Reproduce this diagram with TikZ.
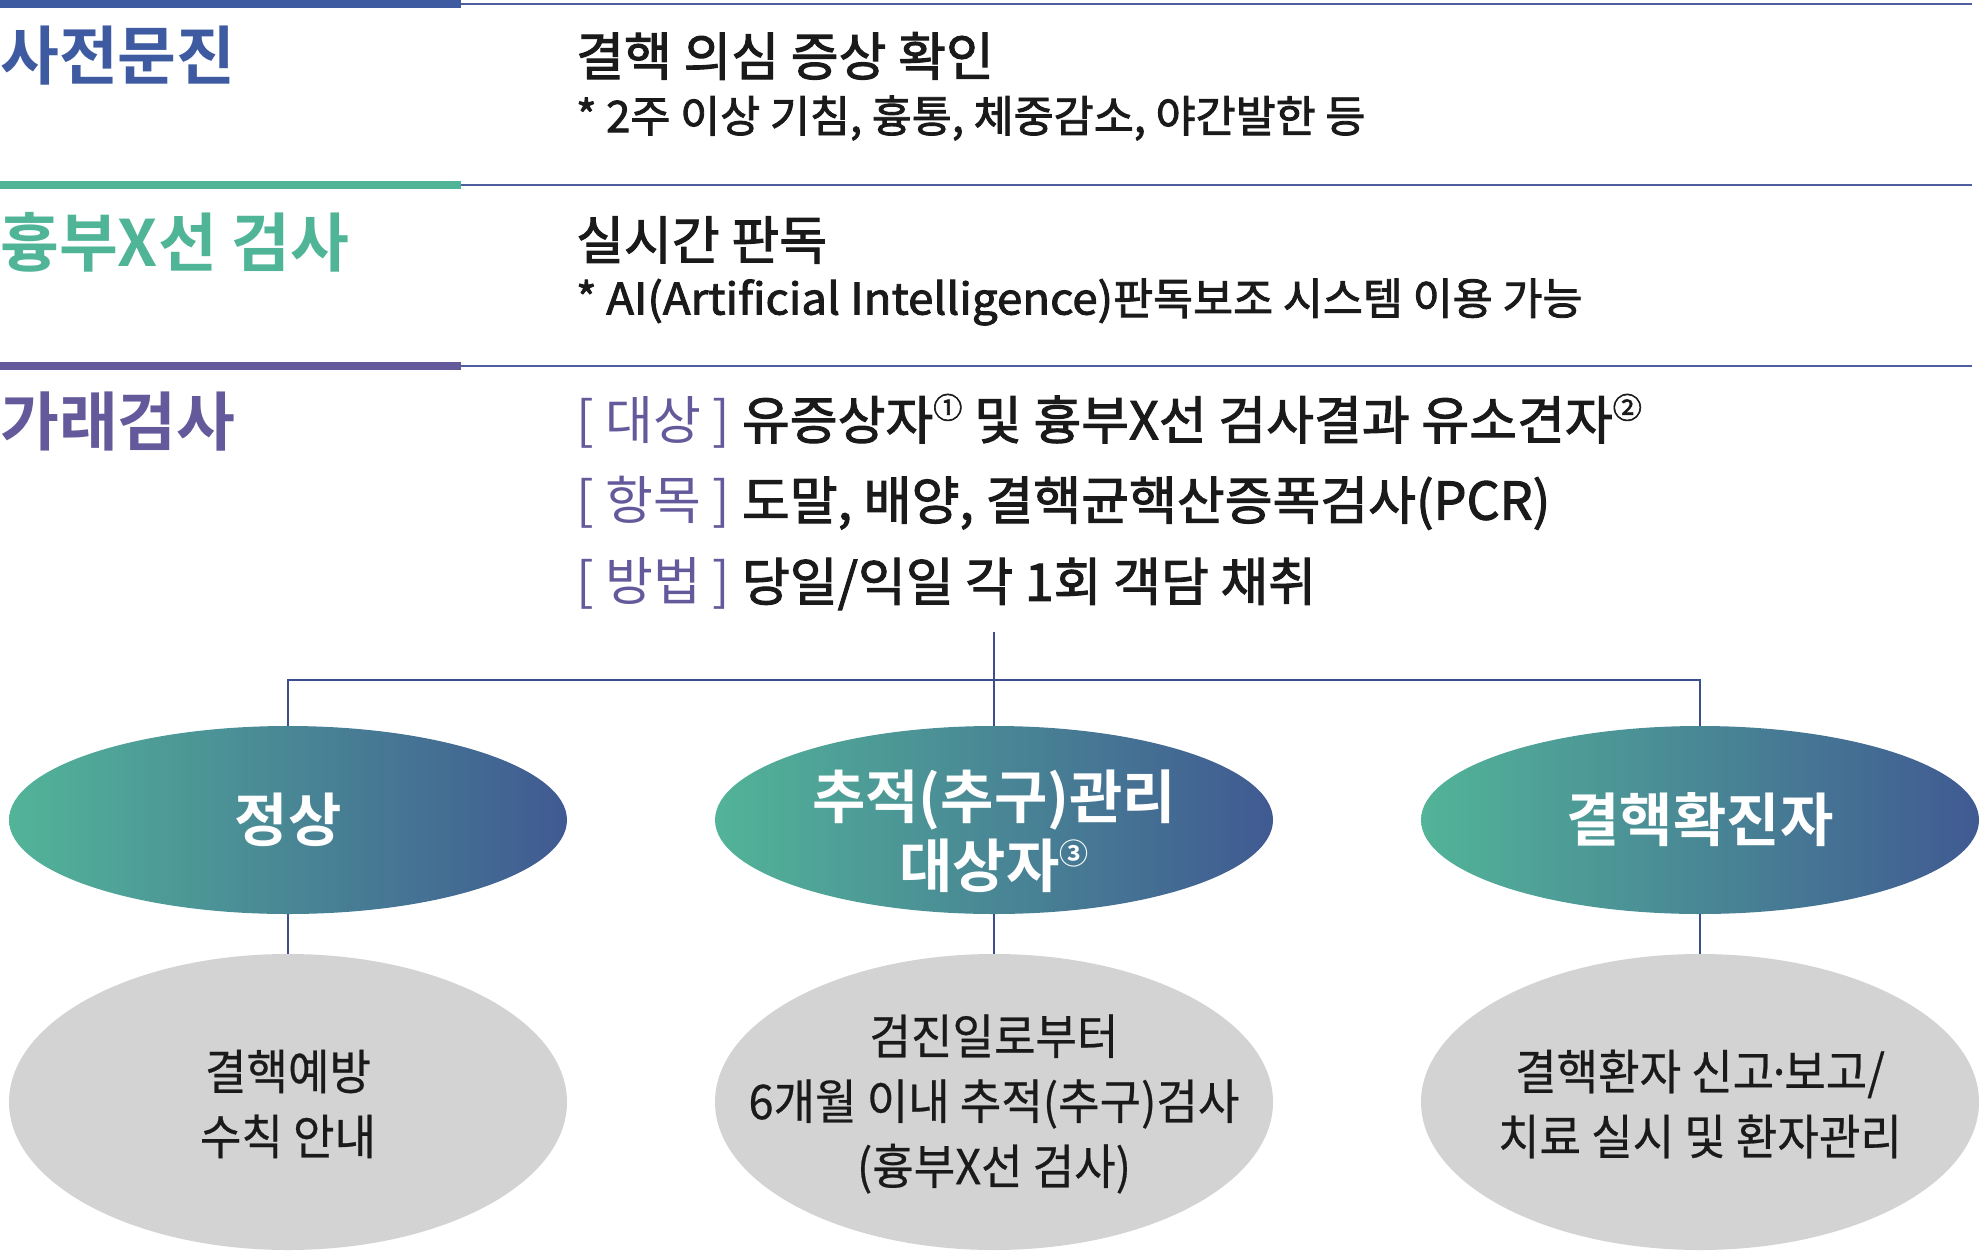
\documentclass[tikz,border=0pt]{standalone}
\usepackage{fontspec}
\usetikzlibrary{shapes.geometric}
\setmainfont{Noto Sans CJK KR}[BoldFont={Noto Sans CJK KR Bold}]
\newfontfamily\krR{Noto Sans CJK KR}
\newfontfamily\krG{Noto Sans CJK KR}[FakeStretch=0.94,FakeBold=0.5]
\newfontfamily\krM{Noto Sans CJK KR}[FakeBold=2]
\newfontfamily\krB{Noto Sans CJK KR Bold}
\definecolor{blueh}{HTML}{3E5AA0}
\definecolor{tealh}{HTML}{50B496}
\definecolor{purph}{HTML}{645A9B}
\definecolor{rulec}{HTML}{4E5E9E}
\definecolor{connc}{HTML}{3B4E8E}
\definecolor{gradL}{HTML}{52B498}
\definecolor{gradR}{HTML}{405A92}
\definecolor{grayc}{HTML}{D3D3D3}
\definecolor{txt}{HTML}{1A1A1A}
\tikzset{
  thickbar/.style={line width=8pt},
  thinrule/.style={line width=2pt, color=rulec},
  conn/.style={line width=1.6pt, color=connc},
  topell/.style={ellipse, inner sep=0pt, minimum width=558pt, minimum height=188pt, left color=gradL, right color=gradR},
  grayell/.style={ellipse, inner sep=0pt, minimum width=558pt, minimum height=296pt, fill=grayc},
  headtxt/.style={anchor=west, inner sep=0pt, font=\krB\fontsize{64}{70}\selectfont},
  bigtxt/.style={anchor=west, inner sep=0pt, text=txt, font=\krM\fontsize{52}{60}\selectfont},
  smalltxt/.style={anchor=west, inner sep=0pt, text=txt, font=\krM\fontsize{43.5}{48}\selectfont},
  elltxt/.style={align=center, inner sep=0pt, text=white, font=\krB\fontsize{58}{69}\selectfont},
  graytxt/.style={align=center, inner sep=0pt, text=txt, font=\krG\fontsize{48}{65}\selectfont},
}
\newcommand{\circnum}[1]{\raisebox{0.40em}{\fontsize{29}{29}\selectfont #1}}
\begin{document}
\begin{tikzpicture}[x=1pt,y=-1pt]
\useasboundingbox (0,0) rectangle (1980,1252);
% rules
\draw[thickbar, blueh] (0,4) -- (461,4);
\draw[thinrule] (461,4) -- (1972,4);
\draw[thickbar, tealh] (0,185) -- (461,185);
\draw[thinrule] (461,185) -- (1972,185);
\draw[thickbar, purph] (0,366) -- (461,366);
\draw[thinrule] (461,366) -- (1972,366);
% headings
\node[headtxt, text=blueh] (h1) at (0,56) {사전문진};
\node[headtxt, text=tealh] (h2) at (0,242) {흉부X선 검사};
\node[headtxt, text=purph] (h3) at (0,421) {가래검사};
% body text
\node[bigtxt] (t1) at (576,56) {결핵 의심 증상 확인};
\node[smalltxt] (t2) at (576,118) {* 2주 이상 기침, 흉통, 체중감소, 야간발한 등};
\node[bigtxt] (t3) at (576,240) {실시간 판독};
\node[smalltxt] (t4) at (576,302) {* \scalebox{1.05}[1]{AI(Artificial Intelligence)}판독보조 시스템 이용 가능};
\node[bigtxt] (t5) at (576,421) {{\krR\color{purph}[ 대상 ]} 유증상자\circnum{①} 및 흉부X선 검사결과 유소견자\circnum{②}};
\node[bigtxt] (t6) at (576,503) {{\krR\color{purph}[ 항목 ]} 도말, 배양, 결핵균핵산증폭검사(PCR)};
\node[bigtxt] (t7) at (576,584) {{\krR\color{purph}[ 방법 ]} 당일/익일 각 1회 객담 채취};
% ellipses
\node[topell] (e1) at (288,820) {};
\node[topell] (e2) at (994,820) {};
\node[topell] (e3) at (1700,820) {};
\node[elltxt] (l1) at (e1.center) {정상};
\node[elltxt] (l2) at (994,831) {추적(추구)관리\\대상자\circnum{③}};
\node[elltxt] (l3) at (e3.center) {결핵확진자};
\node[grayell] (g1) at (288,1102) {};
\node[grayell] (g2) at (994,1102) {};
\node[grayell] (g3) at (1700,1102) {};
\node[graytxt] (m1) at (288,1104) {결핵예방\\수칙 안내};
\node[graytxt] (m2) at (994,1104) {검진일로부터\\6개월 이내 추적(추구)검사\\(흉부X선 검사)};
\node[graytxt] (m3) at (1700,1104) {결핵환자 신고\kern-0.16em·\kern-0.16em보고/\\치료 실시 및 환자관리};
% connectors
\coordinate (top) at (994,632);
\coordinate (hl) at (288,680);
\coordinate (hr) at (1700,680);
\draw[conn] (top) -- (e2.north);
\draw[conn] (e1.north) -- (hl) -- (hr) -- (e3.north);
\draw[conn] (e1.south) -- (g1.north);
\draw[conn] (e2.south) -- (g2.north);
\draw[conn] (e3.south) -- (g3.north);
\end{tikzpicture}
\end{document}
